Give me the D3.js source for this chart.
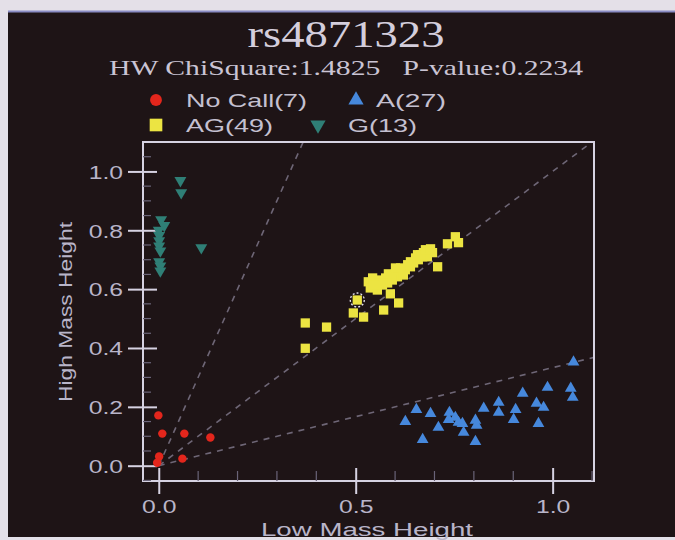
<!DOCTYPE html>
<html>
<head>
<meta charset="utf-8">
<script src="https://cdn.jsdelivr.net/npm/d3@7"></script>
<style>
  html, body { margin: 0; padding: 0; background: #e6e2ea; }
  svg { display: block; }
</style>
</head>
<body>
<svg id="chart" width="675" height="540"></svg>
<script>
// Genotype cluster plot for one SNP: low-mass vs high-mass peak heights.
const title = "rs4871323";
const subtitle = "HW ChiSquare:1.4825   P-value:0.2234";
const xTickValues = [0, 0.5, 1.0];
const yTickValues = [0, 0.2, 0.4, 0.6, 0.8, 1.0];
const guideSlopes = [3, 1, 1 / 3];

// [low mass height, high mass height]
const noCall = [
  [-0.001, 0.171], [0.009, 0.109], [0.065, 0.109], [0.131, 0.096],
  [0.001, 0.031], [0.060, 0.024], [-0.004, 0.010]
];
const genoA = [
  [1.053, 0.352], [0.654, 0.191], [0.690, 0.177], [0.626, 0.150], [0.738, 0.181],
  [0.736, 0.157], [0.753, 0.164], [0.710, 0.130], [0.771, 0.143], [0.774, 0.113],
  [0.804, 0.154], [0.807, 0.137], [0.670, 0.089], [0.804, 0.082], [0.825, 0.195],
  [0.863, 0.215], [0.863, 0.181], [0.906, 0.191], [0.901, 0.157], [0.924, 0.246],
  [0.959, 0.212], [0.977, 0.198], [0.964, 0.143], [0.987, 0.266], [1.046, 0.263],
  [1.051, 0.232], [0.761, 0.147]
];
const genoAG = [
  [0.753, 0.778], [0.733, 0.754], [0.761, 0.758], [0.708, 0.676], [0.588, 0.584],
  [0.609, 0.553], [0.571, 0.529], [0.504, 0.563], [0.494, 0.519], [0.520, 0.505],
  [0.372, 0.485], [0.426, 0.471], [0.372, 0.399],
  [0.532, 0.625], [0.550, 0.614], [0.563, 0.631], [0.576, 0.638], [0.588, 0.642],
  [0.601, 0.652], [0.614, 0.659], [0.626, 0.666], [0.639, 0.676], [0.647, 0.689],
  [0.659, 0.700], [0.657, 0.717], [0.672, 0.724], [0.685, 0.727], [0.695, 0.724],
  [0.537, 0.604], [0.555, 0.597], [0.581, 0.621], [0.606, 0.642], [0.632, 0.683],
  [0.670, 0.710], [0.682, 0.710], [0.652, 0.706], [0.543, 0.638], [0.568, 0.614],
  [0.614, 0.672], [0.593, 0.631], [0.639, 0.693], [0.665, 0.717], [0.677, 0.734],
  [0.621, 0.648], [0.558, 0.621], [0.583, 0.652], [0.601, 0.672], [0.690, 0.737],
  [0.545, 0.614]
];
const genoG = [
  [0.055, 0.969], [0.057, 0.928], [0.006, 0.836], [0.014, 0.816], [0.001, 0.782],
  [0.001, 0.765], [0.001, 0.747], [0.004, 0.730], [0.108, 0.741], [0.001, 0.693],
  [0.004, 0.679], [0.004, 0.662], [0.000, 0.800]
];
const selectedPoint = [0.504, 0.563];

const legendItems = [
  { label: "No Call(" + noCall.length + ")", shape: "circle", color: "#e3261c", mx: 156, tx: 186, w: 121, row: 0 },
  { label: "A(" + genoA.length + ")", shape: "up", color: "#4688dc", mx: 356, tx: 376, w: 70, row: 0 },
  { label: "AG(" + genoAG.length + ")", shape: "square", color: "#ece442", mx: 156, tx: 186, w: 87, row: 1 },
  { label: "G(" + genoG.length + ")", shape: "down", color: "#2f7f76", mx: 318, tx: 348, w: 69, row: 1 }
];

const svg = d3.select("#chart");
const W = 675, H = 540;
const ink = "#d6d2e2";
const labelInk = "#b9b5c9";
const sans = "'Liberation Sans', Arial, sans-serif";
const serif = "'Liberation Serif', 'Times New Roman', serif";

// Frame and dark panel
svg.append("rect").attr("x", 0).attr("y", 0).attr("width", W).attr("height", H).attr("fill", "#e4e0e8");
svg.append("rect").attr("x", 8).attr("y", 11).attr("width", W - 8).attr("height", 526).attr("fill", "#1e1416");
svg.append("line").attr("x1", 8).attr("x2", W).attr("y1", 11.5).attr("y2", 11.5)
  .attr("stroke", "#8a8cc4").attr("stroke-width", 2);

// Stretch text horizontally by a factor
function widen(sel, k) {
  sel.each(function () {
    const len = this.getComputedTextLength();
    d3.select(this).attr("textLength", len * k).attr("lengthAdjust", "spacingAndGlyphs");
  });
}
// Stretch text to a fixed width
function fitTo(sel, w) {
  sel.attr("textLength", w).attr("lengthAdjust", "spacingAndGlyphs");
}

const plot = { left: 143, right: 594, top: 142, bottom: 481 };
const x = d3.scaleLinear().domain([-0.04, 1.105]).range([plot.left, plot.right]);
const y = d3.scaleLinear().domain([-0.052, 1.1]).range([plot.bottom, plot.top]);

// Title block
svg.append("text").attr("x", 346).attr("y", 47).attr("text-anchor", "middle")
  .attr("font-family", serif).attr("font-size", 37).attr("fill", "#d4cedc")
  .text(title).call(fitTo, 197);
svg.append("text").attr("x", 346).attr("y", 75).attr("text-anchor", "middle")
  .attr("font-family", serif).attr("font-size", 21).attr("fill", "#cac4d4")
  .attr("xml:space", "preserve").style("white-space", "pre")
  .text(subtitle).call(fitTo, 474);

// Legend
const symbolFor = shape => {
  if (shape === "circle") return d3.symbol(d3.symbolCircle, 110)();
  if (shape === "square") return d3.symbol(d3.symbolSquare, 160)();
  return d3.symbol(d3.symbolTriangle, 100)();
};
const legend = svg.append("g");
legendItems.forEach(d => {
  const ly = 100 + d.row * 25;
  legend.append("path").attr("d", symbolFor(d.shape))
    .attr("transform", `translate(${d.mx},${ly})` + (d.shape === "down" ? " rotate(180)" : ""))
    .attr("fill", d.color);
  legend.append("text").attr("x", d.tx).attr("y", ly + 7)
    .attr("font-family", sans).attr("font-size", 19).attr("fill", "#c4c0d0")
    .text(d.label).call(fitTo, d.w);
});

// Plot frame
svg.append("rect").attr("x", plot.left).attr("y", plot.top)
  .attr("width", plot.right - plot.left).attr("height", plot.bottom - plot.top)
  .attr("fill", "none").attr("stroke", ink).attr("stroke-width", 2);

// Y axis: major ticks cross the frame, minor ticks every 0.05 inside
const yMinor = d3.range(-0.05, 1.1, 0.05).filter(v => Math.abs(v * 5 - Math.round(v * 5)) > 1e-6);
svg.append("g").selectAll("line").data(yMinor).join("line")
  .attr("x1", plot.left).attr("x2", plot.left + 8)
  .attr("y1", d => y(d)).attr("y2", d => y(d))
  .attr("stroke", "#6a6478").attr("stroke-width", 1.2);
const yAxis = d3.axisLeft(y).tickValues(yTickValues).tickFormat(d3.format(".1f"))
  .tickSizeInner(15).tickSizeOuter(0).tickPadding(5);
const gy = svg.append("g").attr("transform", `translate(${plot.left},0)`).call(yAxis);
gy.select(".domain").remove();
gy.selectAll(".tick line").attr("x2", -15).attr("x1", 14).attr("stroke", ink).attr("stroke-width", 2);
gy.selectAll(".tick text").attr("font-family", sans).attr("font-size", 19).attr("fill", labelInk)
  .attr("dy", "0.36em").call(widen, 1.3);

// X axis: major ticks cross the frame, minor ticks every 0.1 inside
const xMinor = d3.range(0.1, 1.11, 0.1).filter(v => Math.abs(v * 2 - Math.round(v * 2)) > 1e-6);
svg.append("g").selectAll("line").data(xMinor).join("line")
  .attr("x1", d => x(d)).attr("x2", d => x(d))
  .attr("y1", plot.bottom).attr("y2", plot.bottom - 10)
  .attr("stroke", "#6a6478").attr("stroke-width", 1.2);
const xAxis = d3.axisBottom(x).tickValues(xTickValues).tickFormat(d3.format(".1f"))
  .tickSizeInner(13).tickSizeOuter(0).tickPadding(6);
const gx = svg.append("g").attr("transform", `translate(0,${plot.bottom})`).call(xAxis);
gx.select(".domain").remove();
gx.selectAll(".tick line").attr("y1", -13).attr("y2", 13).attr("stroke", ink).attr("stroke-width", 2);
gx.selectAll(".tick text").attr("font-family", sans).attr("font-size", 19).attr("fill", labelInk)
  .attr("dy", "0.71em").call(widen, 1.3);

// Axis titles
svg.append("text").attr("transform", "translate(72,312) rotate(-90)").attr("text-anchor", "middle")
  .attr("font-family", sans).attr("font-size", 19).attr("fill", labelInk)
  .text("High Mass Height").call(widen, 1.2);
svg.append("text").attr("x", 367).attr("y", 535.5).attr("text-anchor", "middle")
  .attr("font-family", sans).attr("font-size", 18).attr("fill", labelInk)
  .text("Low Mass Height").call(fitTo, 212);

// Guide lines from the origin
svg.append("clipPath").attr("id", "plotClip").append("rect")
  .attr("x", plot.left + 1).attr("y", plot.top + 1)
  .attr("width", plot.right - plot.left - 2).attr("height", plot.bottom - plot.top - 2);
const guides = svg.append("g").attr("clip-path", "url(#plotClip)");
guides.selectAll("line").data(guideSlopes).join("line")
  .attr("x1", x(0)).attr("y1", y(0))
  .attr("x2", d => x(2)).attr("y2", d => y(2 * d))
  .attr("stroke", "#6e6676").attr("stroke-width", 1.6).attr("stroke-dasharray", "6,6");

// Markers
const marks = svg.append("g");
const series = [
  { data: noCall, path: d3.symbol(d3.symbolCircle, 56)(), color: "#e3261c", rot: 0 },
  { data: genoA, path: d3.symbol(d3.symbolTriangle, 60)(), color: "#4688dc", rot: 0 },
  { data: genoG, path: d3.symbol(d3.symbolTriangle, 62)(), color: "#2f7f76", rot: 180 },
  { data: genoAG, path: d3.symbol(d3.symbolSquare, 86)(), color: "#ece442", rot: 0 }
];
series.forEach(s => {
  marks.append("g").selectAll("path").data(s.data).join("path")
    .attr("d", s.path)
    .attr("transform", d => `translate(${x(d[0])},${y(d[1])})` + (s.rot ? ` rotate(${s.rot})` : ""))
    .attr("fill", s.color);
});

// Highlighted sample
marks.append("circle").attr("cx", x(selectedPoint[0])).attr("cy", y(selectedPoint[1])).attr("r", 7)
  .attr("fill", "none").attr("stroke", "#e8e4f4").attr("stroke-width", 1.3).attr("stroke-dasharray", "2,2");
</script>
</body>
</html>
